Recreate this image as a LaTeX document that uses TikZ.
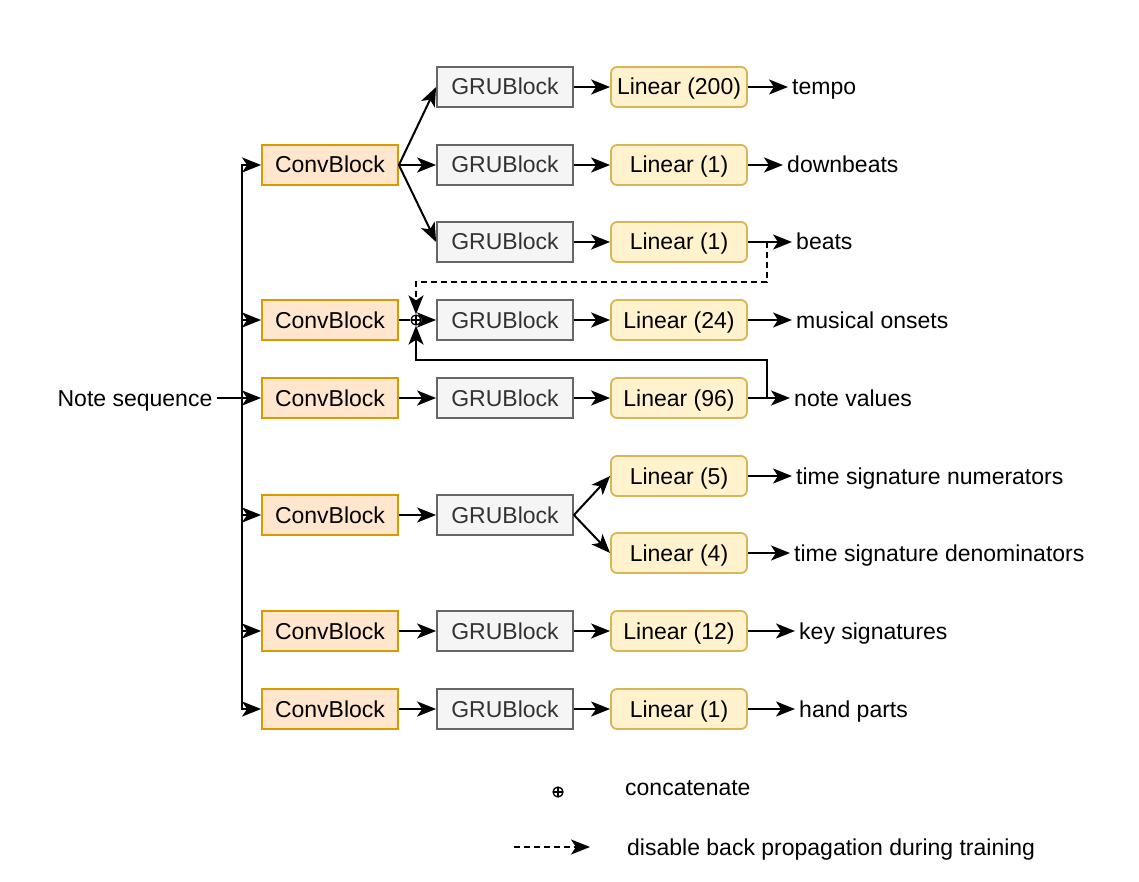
\documentclass[tikz,border=0pt]{standalone}
\usepackage{fontspec}
\setmainfont{Liberation Sans}
\usetikzlibrary{arrows.meta}
\definecolor{convfill}{HTML}{FFE6CC}
\definecolor{convline}{HTML}{D79B00}
\definecolor{grufill}{HTML}{F5F5F5}
\definecolor{gruline}{HTML}{666666}
\definecolor{grutext}{HTML}{333333}
\definecolor{linfill}{HTML}{FFF2CC}
\definecolor{linline}{HTML}{D6B656}
\begin{document}
\begin{tikzpicture}[x=1pt,y=-1pt,
  font=\fontsize{23}{27}\selectfont,
  txt/.style={text height=19pt,text depth=3pt},
  blk/.style={txt,draw,line width=1.8pt,minimum width=136pt,minimum height=40pt,inner sep=0pt},
  conv/.style={blk,fill=convfill,draw=convline},
  gru/.style={blk,fill=grufill,draw=gruline,text=grutext},
  lin/.style={blk,fill=linfill,draw=linline,rounded corners=6pt},
  outtxt/.style={txt,anchor=west,inner sep=4pt},
  arr/.style={-{Stealth[length=19pt,width=15pt,inset=5pt]},line width=2pt},
  cat/.style={circle,draw,line width=1.3pt,minimum size=10pt,inner sep=0pt,
    path picture={\draw[line width=1.3pt] (path picture bounding box.north) -- (path picture bounding box.south)
      (path picture bounding box.west) -- (path picture bounding box.east);}}]
  \useasboundingbox (0,0) rectangle (1139,882);

  % Eingang
  \node[txt,inner sep=4pt] (Notes) at (135,398) {Note sequence};
  \coordinate (Split) at (242,398);

  % ConvBlocks
  \node[conv] (ConvA) at (330,165) {ConvBlock};
  \node[conv] (ConvB) at (330,320) {ConvBlock};
  \node[conv] (ConvC) at (330,398) {ConvBlock};
  \node[conv] (ConvD) at (330,515) {ConvBlock};
  \node[conv] (ConvE) at (330,631) {ConvBlock};
  \node[conv] (ConvF) at (330,709) {ConvBlock};

  \draw[line width=2pt] (Notes) -- (Split);
  \foreach \c in {ConvA,ConvB,ConvC,ConvD,ConvE,ConvF}
    \draw[arr] (Split) |- (\c);

  % GRUBlocks
  \node[gru] (GruTempo) at (505,87) {GRUBlock};
  \node[gru] (GruDown) at (505,165) {GRUBlock};
  \node[gru] (GruBeat) at (505,242) {GRUBlock};
  \node[gru] (GruOnset) at (505,320) {GRUBlock};
  \node[gru] (GruValue) at (505,398) {GRUBlock};
  \node[gru] (GruTime) at (505,515) {GRUBlock};
  \node[gru] (GruKey) at (505,631) {GRUBlock};
  \node[gru] (GruHand) at (505,709) {GRUBlock};

  \node[cat] (Cat) at (416,320) {};

  \draw[arr] (ConvA.east) -- (GruTempo.west);
  \draw[arr] (ConvA.east) -- (GruDown.west);
  \draw[arr] (ConvA.east) -- (GruBeat.west);
  \draw[line width=2pt] (ConvB) -- (Cat);
  \draw[arr] (Cat) -- (GruOnset);
  \draw[arr] (ConvC) -- (GruValue);
  \draw[arr] (ConvD) -- (GruTime);
  \draw[arr] (ConvE) -- (GruKey);
  \draw[arr] (ConvF) -- (GruHand);

  % Linear
  \node[lin] (LinTempo) at (679,87) {Linear (200)};
  \node[lin] (LinDown) at (679,165) {Linear (1)};
  \node[lin] (LinBeat) at (679,242) {Linear (1)};
  \node[lin] (LinOnset) at (679,320) {Linear (24)};
  \node[lin] (LinValue) at (679,398) {Linear (96)};
  \node[lin] (LinNum) at (679,476) {Linear (5)};
  \node[lin] (LinDen) at (679,553) {Linear (4)};
  \node[lin] (LinKey) at (679,631) {Linear (12)};
  \node[lin] (LinHand) at (679,709) {Linear (1)};

  \draw[arr] (GruTempo) -- (LinTempo);
  \draw[arr] (GruDown) -- (LinDown);
  \draw[arr] (GruBeat) -- (LinBeat);
  \draw[arr] (GruOnset) -- (LinOnset);
  \draw[arr] (GruValue) -- (LinValue);
  \draw[arr] (GruTime.east) -- (LinNum.west);
  \draw[arr] (GruTime.east) -- (LinDen.west);
  \draw[arr] (GruKey) -- (LinKey);
  \draw[arr] (GruHand) -- (LinHand);

  % Ausgaben
  \node[outtxt] (OutTempo) at (788,87) {tempo};
  \node[outtxt] (OutDown) at (783,165) {downbeats};
  \node[outtxt] (OutBeat) at (792,242) {beats};
  \node[outtxt] (OutOnset) at (792,320) {musical onsets};
  \node[outtxt] (OutValue) at (790,398) {note values};
  \node[outtxt] (OutNum) at (792,476) {time signature numerators};
  \node[outtxt] (OutDen) at (790,553) {time signature denominators};
  \node[outtxt] (OutKey) at (795,631) {key signatures};
  \node[outtxt] (OutHand) at (795,709) {hand parts};

  \draw[arr] (LinTempo) -- (OutTempo);
  \draw[arr] (LinDown) -- (OutDown);
  \draw[arr] (LinBeat) -- (OutBeat);
  \draw[arr] (LinOnset) -- (OutOnset);
  \draw[arr] (LinValue) -- (OutValue);
  \draw[arr] (LinNum) -- (OutNum);
  \draw[arr] (LinDen) -- (OutDen);
  \draw[arr] (LinKey) -- (OutKey);
  \draw[arr] (LinHand) -- (OutHand);

  % Rueckfuehrung
  \coordinate (BeatTap) at (767,242);
  \coordinate (ValueTap) at (767,398);
  \draw[arr,dash pattern=on 6pt off 4pt] (BeatTap) -- ++(0,40) -| (Cat.north);
  \draw[arr] (ValueTap) -- ++(0,-38) -| (Cat.south);

  % Legende
  \node[cat] (LegCat) at (558,792) {};
  \node[txt,anchor=west,inner sep=0pt] (LegCatTxt) at (625,787) {concatenate};
  \coordinate (LegA) at (514,847);
  \coordinate (LegB) at (590,847);
  \draw[arr,dash pattern=on 6pt off 4pt] (LegA) -- (LegB);
  \node[txt,anchor=west,inner sep=0pt] (LegDashTxt) at (627,847) {disable back propagation during training};
\end{tikzpicture}
\end{document}
